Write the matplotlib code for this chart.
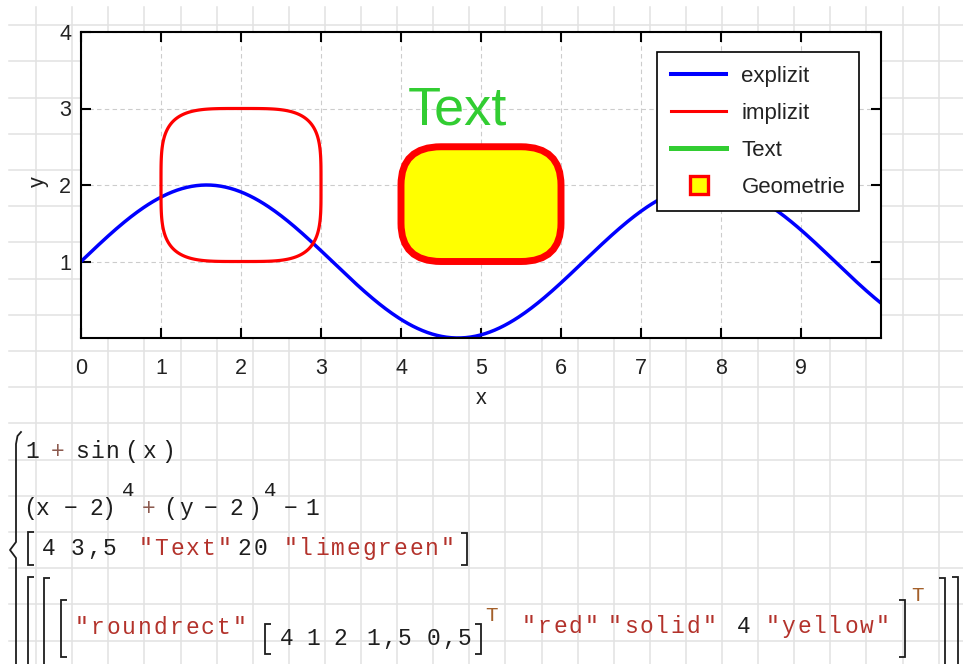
import numpy as np
import matplotlib.pyplot as plt
from matplotlib.patches import FancyBboxPatch, Rectangle
from matplotlib.lines import Line2D

plt.rcParams['font.family'] = ['Liberation Sans', 'DejaVu Sans']

# Daten
x_explizit = np.linspace(0, 10, 500)
y_explizit = 1 + np.sin(x_explizit)

impl_mitte = (2, 2)
impl_exponent = 4
impl_rechts = 1

text_pos = (4, 3.5)
text_str = 'Text'
text_farbe = 'limegreen'

rect_xy = (4, 1)
rect_breite = 2
rect_hoehe = 1.5
rect_radius = 0.5
rect_rand = 'red'
rect_fuell = 'yellow'

x_ticks = list(range(0, 10))
y_ticks = [1, 2, 3, 4]
legende = ['explizit', 'implizit', 'Text', 'Geometrie']

W, H = 963, 664
fig = plt.figure(figsize=(W / 100, H / 100), dpi=100)

# Arbeitsblatt mit Kaestchen, Koordinaten in Pixel
bg = fig.add_axes([0, 0, 1, 1])
bg.set_xlim(0, W)
bg.set_ylim(H, 0)
bg.axis('off')
for gx in np.arange(1, 27) * 36.1:
    bg.plot([gx, gx], [7, H], color='#e2e2e2', lw=1.1)
for gy in 25.2 + np.arange(0, 18) * 36.2:
    bg.plot([9, W], [gy, gy], color='#e2e2e2', lw=1.1)
bg.add_patch(Rectangle((73, 32), 8, 306, color='white', lw=0))

# Diagramm
ax = fig.add_axes([81 / W, 1 - 338 / H, 800 / W, 306 / H])
ax.set_xlim(0, 10)
ax.set_ylim(0, 4)
ax.set_xticks(x_ticks)
ax.set_yticks(y_ticks)
ax.grid(True, color='#cccccc', ls=(0, (4, 3)), lw=0.8)
ax.tick_params(direction='in', top=True, right=True, length=7, width=1.5,
               labelsize=15.5, labelcolor='#222222')
ax.tick_params(axis='x', pad=14.3)
ax.tick_params(axis='y', pad=7.2)
for s in ax.spines.values():
    s.set_linewidth(1.5)

ax.plot(x_explizit, y_explizit, color='blue', lw=2.5, zorder=2)

gx = np.linspace(0, 10, 1001)
gy = np.linspace(0, 4, 401)
X, Y = np.meshgrid(gx, gy)
F = (X - impl_mitte[0]) ** impl_exponent + (Y - impl_mitte[1]) ** impl_exponent - impl_rechts
ax.contour(X, Y, F, levels=[0], colors='red', linewidths=2.3, zorder=2)

ax.add_patch(FancyBboxPatch(rect_xy, rect_breite, rect_hoehe,
                            boxstyle=f'round,pad=0,rounding_size={rect_radius}',
                            ec=rect_rand, fc=rect_fuell, lw=5, zorder=3))

ax.annotate(text_str, xy=text_pos, xytext=(7, -15), textcoords='offset pixels',
            ha='left', va='top', fontsize=39, color=text_farbe, zorder=4)

handles = [Line2D([], [], color='blue', lw=2.9),
           Line2D([], [], color='red', lw=2.2),
           Line2D([], [], color='limegreen', lw=3.6),
           Line2D([], [], ls='', marker='s', ms=13, mfc='yellow', mec='red', mew=2.4)]
leg = ax.legend(handles, legende, loc='upper right', bbox_to_anchor=(0.9725, 0.935),
                borderaxespad=0, fancybox=False, framealpha=1, edgecolor='black',
                prop={'size': 16}, handlelength=2.5, handletextpad=0.68,
                labelspacing=0.72, borderpad=0.62)
leg.get_frame().set_linewidth(1.2)
for t in leg.get_texts():
    t.set_color('#222222')

ax.set_xlabel('x', fontsize=15.5, color='#222222', va='center')
ax.xaxis.set_label_coords(0.5, (338 - 398) / 306)
ax.set_ylabel('y', fontsize=15.5, color='#222222', va='center')
ax.yaxis.set_label_coords((38 - 81) / 800, (338 - 182) / 306)

# Formeln unter dem Diagramm
mono = ['Liberation Mono', 'DejaVu Sans Mono']
str_farbe = '#b3322b'
num_farbe = '#1e1e1e'
op_farbe = '#8c5a4f'
t_farbe = '#a4602a'
schritt = 15.7


def schreib(s, xc, y, c=num_farbe, size=16.5):
    # jedes Zeichen in eine feste Zelle setzen
    x0 = xc - len(s) * schritt / 2
    for i, ch in enumerate(s):
        bg.text(x0 + (i + 0.5) * schritt, y, ch, ha='center', va='baseline',
                color=c, fontsize=size, family=mono)


def klammer(x, y0, y1, links=True, serif=6):
    d = serif if links else -serif
    bg.plot([x + d, x, x, x + d], [y0, y0, y1, y1], color=num_farbe, lw=1.3,
            solid_capstyle='butt', solid_joinstyle='miter')


zeile1 = [('1', 32), ('+', 58, op_farbe), ('sin', 97.5), ('(', 131), ('x', 150), (')', 168)]
for tok in zeile1:
    schreib(tok[0], tok[1], 458, tok[2] if len(tok) > 2 else num_farbe)

zeile2 = [('(', 30), ('x', 43), ('−', 71), ('2', 96), (')', 108), ('+', 149, op_farbe),
          ('(', 170), ('y', 186), ('−', 211), ('2', 236), (')', 254), ('−', 291), ('1', 312)]
for tok in zeile2:
    schreib(tok[0], tok[1], 515, tok[2] if len(tok) > 2 else num_farbe)
schreib('4', 128, 496, size=15)
schreib('4', 270, 496, size=15)

zeile3 = [('4', 49), ('3,5', 93.5), ('"Text"', 185, str_farbe), ('20', 252.5),
          ('"limegreen"', 369, str_farbe)]
for tok in zeile3:
    schreib(tok[0], tok[1], 555, tok[2] if len(tok) > 2 else num_farbe)
klammer(28, 532, 565)
klammer(467, 533, 565, links=False)

schreib('"roundrect"', 160.5, 634, str_farbe)
for s, xc in [('4', 287), ('1', 313), ('2', 340), ('1,5', 389), ('0,5', 449)]:
    schreib(s, xc, 645)
klammer(265, 624, 654)
klammer(481, 624, 654, links=False)
schreib('T', 492, 621, t_farbe, size=15)
for s, xc, c in [('"red"', 560, str_farbe), ('"solid"', 662, str_farbe),
                 ('4', 744, num_farbe), ('"yellow"', 827.5, str_farbe)]:
    schreib(s, xc, 633, c)
schreib('T', 917, 601, t_farbe, size=15)

klammer(28, 577, 700)
klammer(44, 578, 700)
klammer(61, 600, 657)
klammer(905, 600, 657, links=False)
klammer(945, 578, 700, links=False)
klammer(958, 577, 700, links=False)

# geschweifte Klammer des Gleichungssystems
bx = [21, 17.5, 16, 16, 10, 16, 16]
by = [432, 436, 444, 542, 550, 558, 700]
bg.plot(bx, by, color=num_farbe, lw=1.3)

fig.savefig('out.png', dpi=100)
